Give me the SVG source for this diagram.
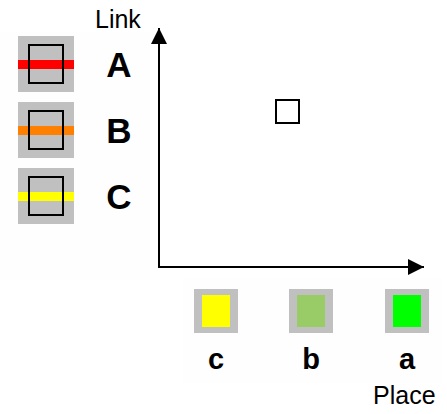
<svg xmlns="http://www.w3.org/2000/svg" width="447" height="414" viewBox="0 0 447 414">
<style>
.panel{fill:#fefefe}
.gbox{fill:#c0c0c0}
.inner{fill:none;stroke:#000;stroke-width:2}
.axis{stroke:#000;stroke-width:2;fill:none}
.lbl{font-family:"Liberation Sans",Arial,sans-serif;font-size:25px;fill:#000}
.big{font-family:"Liberation Sans",Arial,sans-serif;font-weight:bold;font-size:35px;fill:#000;text-anchor:middle}
.small{font-family:"Liberation Sans",Arial,sans-serif;font-weight:bold;font-size:29px;fill:#000;text-anchor:middle}
</style>
<defs>
<marker id="arr" markerWidth="16" markerHeight="16" refX="16" refY="8" orient="auto" markerUnits="userSpaceOnUse">
<path d="M0,0 L16,8 L0,16 Z" fill="#000"/>
</marker>
</defs>
<rect width="447" height="414" fill="#fff"/>
<rect class="panel" x="0" y="32" width="150" height="248"/>
<rect class="panel" x="183" y="278" width="259" height="105"/>

<g id="legendA">
<rect class="gbox" x="18" y="36" width="56" height="56"/>
<rect x="18" y="60" width="56" height="9" fill="#ff0000"/>
<rect class="inner" x="29" y="45" width="34" height="38"/>
<text class="big" x="119" y="77">A</text>
</g>
<g id="legendB">
<rect class="gbox" x="18" y="102" width="56" height="56"/>
<rect x="18" y="126" width="56" height="9" fill="#ff8000"/>
<rect class="inner" x="29" y="111" width="34" height="38"/>
<text class="big" x="119" y="143">B</text>
</g>
<g id="legendC">
<rect class="gbox" x="18" y="168" width="56" height="56"/>
<rect x="18" y="192" width="56" height="9" fill="#ffff00"/>
<rect class="inner" x="29" y="177" width="34" height="38"/>
<text class="big" x="119" y="209">C</text>
</g>

<g id="connectors">
<line class="axis" x1="159" y1="268" x2="159" y2="28" marker-end="url(#arr)"/>
<line class="axis" x1="158" y1="267" x2="424" y2="267" marker-end="url(#arr)"/>
</g>
<text class="lbl" x="95" y="28">Link</text>
<text class="lbl" x="373" y="404">Place</text>

<g id="point">
<rect x="276" y="100" width="23" height="23" fill="#fff" stroke="#000" stroke-width="2"/>
</g>

<g id="placeC">
<rect class="gbox" x="194" y="289" width="44" height="44"/>
<rect x="202" y="295" width="28" height="32" fill="#ffff00"/>
<text class="small" x="216" y="369">c</text>
</g>
<g id="placeB">
<rect class="gbox" x="289" y="289" width="44" height="44"/>
<rect x="297" y="295" width="28" height="32" fill="#99cc66"/>
<text class="small" x="311" y="369">b</text>
</g>
<g id="placeA">
<rect class="gbox" x="385" y="289" width="44" height="44"/>
<rect x="393" y="295" width="28" height="32" fill="#00ff00"/>
<text class="small" x="407" y="369">a</text>
</g>
</svg>
